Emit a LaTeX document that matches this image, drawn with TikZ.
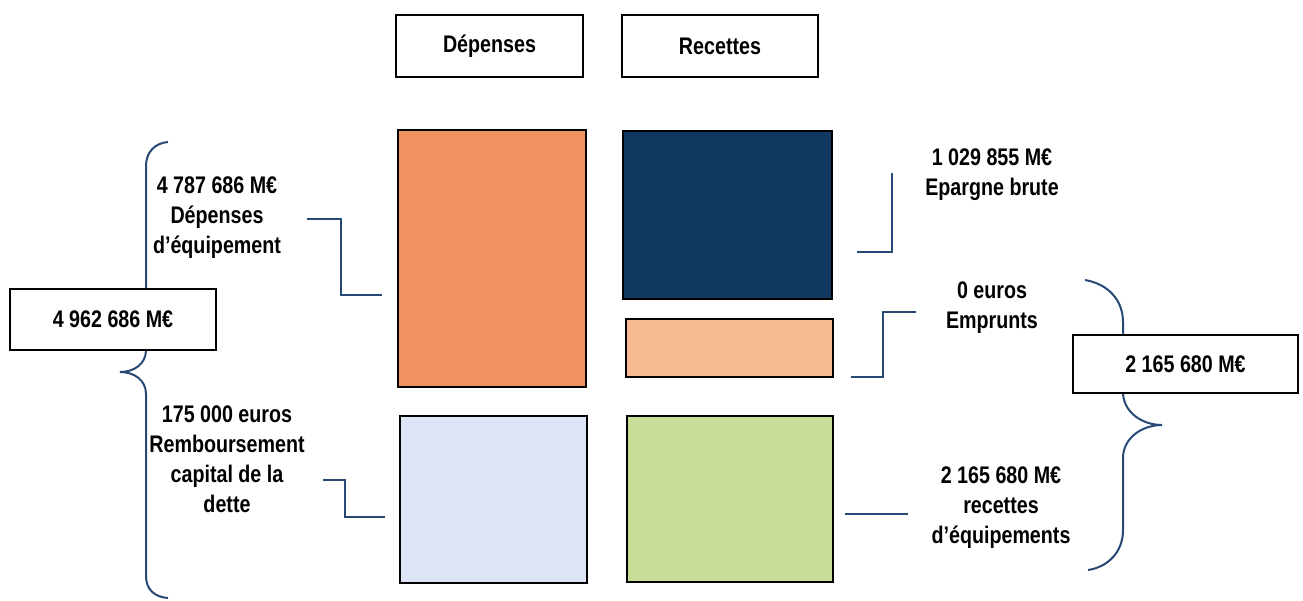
\documentclass[tikz,border=0pt]{standalone}
\usepackage{fontspec}
\setmainfont{Liberation Sans}[FakeStretch=0.82]
\usepackage{xcolor}
\usetikzlibrary{math}
\definecolor{qline}{RGB}{40,72,118}
\definecolor{qorange}{RGB}{240,146,96}
\definecolor{qnavy}{RGB}{16,56,96}
\definecolor{qpeach}{RGB}{246,186,146}
\definecolor{qlav}{RGB}{220,228,246}
\definecolor{qgreen}{RGB}{200,222,152}

\begin{document}
\begin{tikzpicture}[x=1pt,y=-1pt,
  every node/.style={font=\fontsize{24}{30}\selectfont\bfseries, align=center, inner sep=0pt},
  box/.style={draw=black, line width=2pt, fill=white},
  block/.style={draw=black, line width=2pt},
  link/.style={color=qline, line width=2pt}]

\useasboundingbox (0,0) rectangle (1303,600);

\tikzmath{
\xl = 146;
\xr = 1123;
}

%Headers
\node[box, minimum width=187pt, minimum height=62pt] (dep) at (489.5,46) {Dépenses};
\node[box, minimum width=196pt, minimum height=62pt] (rec) at (720,46) {Recettes};

%Blocks
\node[block, fill=qorange, minimum width=188pt, minimum height=257pt] (equip) at (492,258.5) {};
\node[block, fill=qlav, minimum width=187pt, minimum height=167pt] (remb) at (493.5,499.5) {};
\node[block, fill=qnavy, minimum width=209pt, minimum height=168pt] (epargne) at (727.5,215) {};
\node[block, fill=qpeach, minimum width=207pt, minimum height=58pt] (emprunt) at (729.5,348) {};
\node[block, fill=qgreen, minimum width=206pt, minimum height=166pt] (recequip) at (730,499) {};

%Braces
%%left
\draw[link] (168,142) .. controls (155,143) and (\xl,152) .. (\xl,166) -- (\xl,350)
  .. controls (\xl,364) and (134,372) .. (120,372)
  .. controls (134,372) and (\xl,380) .. (\xl,394) -- (\xl,576)
  .. controls (\xl,590) and (155,597) .. (168,598);
%%right
\draw[link] (1085,280) .. controls (1108,284) and (\xr,300) .. (\xr,322) -- (\xr,392)
  .. controls (\xr,412) and (1142,425) .. (1162,425)
  .. controls (1142,425) and (\xr,438) .. (\xr,458) -- (\xr,530)
  .. controls (\xr,552) and (1108,567) .. (1088,570);

%Totals
\node[box, minimum width=206pt, minimum height=61pt] (totdep) at (113,319.5) {4 962 686 M€};
\node[box, minimum width=225pt, minimum height=58pt] (totrec) at (1185.5,364) {2 165 680 M€};

%Labels
\node (tequip) at (217,218) {4 787 686 M€\\Dépenses\\d’équipement};
\node (tremb) at (227,459) {175 000 euros\\Remboursement\\capital de la\\dette};
\node (tepargne) at (992,175) {1 029 855 M€\\Epargne brute};
\node (temprunt) at (992,307.5) {0 euros\\Emprunts};
\node (trecequip) at (1001,507.5) {2 165 680 M€\\recettes\\d’équipements};

%Connectors
\coordinate (a1) at (307,219);
\coordinate (a2) at (382,295);
\coordinate (b1) at (323,480);
\coordinate (b2) at (385,517);
\coordinate (c1) at (892,173);
\coordinate (c2) at (857,252);
\coordinate (d1) at (916,312);
\coordinate (d2) at (851,377);
\coordinate (e1) at (845,514);
\coordinate (e2) at (908,514);

\draw[link] (a1) -- ++(34,0) |- (a2);
\draw[link] (b1) -- ++(22,0) |- (b2);
\draw[link] (c1) |- (c2);
\draw[link] (d1) -- ++(-33,0) |- (d2);
\draw[link] (e1) -- (e2);

\end{tikzpicture}
\end{document}
